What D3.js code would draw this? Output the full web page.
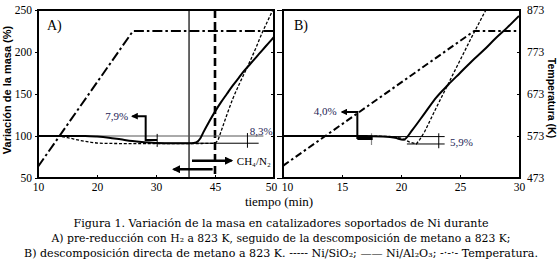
<!DOCTYPE html>
<html><head><meta charset="utf-8">
<script src="https://cdn.jsdelivr.net/npm/d3@7"></script>
<style>body{margin:0;background:#fff}svg{display:block}</style>
</head><body>
<svg id="c" width="560" height="262"></svg>
<script>
// ---- data ----
const massTicks = [50, 100, 150, 200, 250];
const tempTicks = [473, 573, 673, 773, 873];
const xTicksA = [10, 20, 30, 40, 50];
const xTickLabelsA = ["10", "20", "30", "45", "50"];
const xTicksB = [10, 15, 20, 25, 30];

// Panel A (pre-reduction then CH4)
const tempA = [[10, 500], [26.1, 823], [50, 823]];
const solidA = [[10,100],[18,100],[20,99.3],[22,98],[24,96],[26,94],[28,92.5],[30,91.8],[33,91.5],[36,91.5],[36.8,92.3],[37.5,97],[38,104],[39,117],[40,129],[41,140],[42,150],[43,160],[44,169],[45,178],[46,186],[47,194],[48,202],[49,210],[50,218]];
const dottedA = [[10,100],[13,100],[15,98],[17,95],[19,92.5],[21,91.3],[25,91],[30,91],[35,91],[39.8,91.3],[40.4,94],[41,105],[42,125],[43,144],[44,160],[45,175],[46,190],[47,206],[48,223],[49,238],[49.8,250]];
const vSolidA = 35.6, vDashedA = 40;

// Panel B (direct CH4 decomposition)
const tempB = [[10, 502], [26.2, 823], [30, 823]];
const solidB = [[10,100],[17,100],[18.5,99.3],[19.5,97.8],[20.2,95.5],[21,108],[22,127],[23,146],[24,161],[25,175],[26,189],[27,202],[28,216],[29,229],[30,243]];
const dottedB = [[10,100],[17,100],[19,99.5],[20,97.5],[20.7,93],[21.3,90.5],[21.6,96],[22,105],[23,134],[24,162],[25,190],[26,218],[27,245],[27.2,250]];

const captionLines = [
  "Figura 1. Variación de la masa en catalizadores soportados de Ni durante",
  "A) pre-reducción con H₂ a 823 K, seguido de la descomposición de metano a 823 K;",
  "B) descomposición directa de metano a 823 K. ----- Ni/SiO₂; —— Ni/Al₂O₃; -·-·- Temperatura."
];

// ---- drawing ----
const svg = d3.select("#c");
const serif = "'Liberation Serif', 'Times New Roman', serif";
const sans = "'Liberation Sans', Arial, sans-serif";
const xA = d3.scaleLinear([10, 50], [38, 274]);
const xB = d3.scaleLinear([10, 30], [283, 519]);
const yM = d3.scaleLinear([50, 250], [178, 10]);
const yT = d3.scaleLinear([473, 873], [178, 10]);

svg.append("defs").html(`
  <marker id="ah" viewBox="0 0 10 10" refX="8" refY="5" markerWidth="3.4" markerHeight="3.4" orient="auto">
    <path d="M0,0 L10,5 L0,10 z" fill="#000"/></marker>`);

function lineOf(x, y, curve) {
  return d3.line().x(d => x(d[0])).y(d => y(d[1])).curve(curve || d3.curveLinear);
}

function panel(x, xt, xl, opts) {
  const g = svg.append("g");
  const id = "clip" + opts.name;
  svg.select("defs").append("clipPath").attr("id", id).append("rect")
    .attr("x", x.range()[0]).attr("y", 10).attr("width", x.range()[1] - x.range()[0]).attr("height", 168);
  const bx = d3.axisBottom(x).tickValues(xt).tickFormat((d, i) => xl[i]).tickSize(-3).tickPadding(5);
  const ga = g.append("g").attr("transform", "translate(0,178)").call(bx);
  ga.select(".domain").remove();
  ga.selectAll("text").attr("font-family", serif).attr("font-size", 11.5).attr("fill", "#000");
  ga.selectAll("line").attr("stroke", "#000");
  return {g, ga, clip: "url(#" + id + ")"};
}

// Panel A
const pA = panel(xA, xTicksA, xTickLabelsA, {name: "A"});
pA.ga.selectAll(".tick text").filter(d => d === 50).attr("dx", -3);
{
  const ay = d3.axisLeft(yM).tickValues(massTicks).tickSize(3).tickPadding(3);
  const ga = pA.g.append("g").attr("transform", "translate(38,0)").call(ay);
  ga.select(".domain").remove();
  ga.selectAll("text").attr("font-family", serif).attr("font-size", 11.5).attr("fill", "#000");
  const ar = d3.axisLeft(yM).tickValues(massTicks).tickSize(3).tickFormat("");
  const gr = pA.g.append("g").attr("transform", "translate(274,0)").call(ar);
  gr.select(".domain").remove();
}
const cA = pA.g.append("g").attr("clip-path", pA.clip);
cA.append("path").attr("d", lineOf(xA, yT)(tempA)).attr("fill", "none").attr("stroke", "#000")
  .attr("stroke-width", 2).attr("stroke-dasharray", "10,3,2.5,3");
cA.append("line").attr("x1", xA(vSolidA)).attr("x2", xA(vSolidA)).attr("y1", 10).attr("y2", 178)
  .attr("stroke", "#000").attr("stroke-width", 1.2);
cA.append("line").attr("x1", xA(vDashedA)).attr("x2", xA(vDashedA)).attr("y1", 10).attr("y2", 178)
  .attr("stroke", "#000").attr("stroke-width", 2.6).attr("stroke-dasharray", "8,4");
cA.append("line").attr("x1", xA(10)).attr("x2", xA(48.2)).attr("y1", yM(100)).attr("y2", yM(100)).attr("stroke", "#555").attr("stroke-width", 1);
cA.append("line").attr("x1", xA(30.2)).attr("x2", xA(47.4)).attr("y1", yM(91.4)).attr("y2", yM(91.4)).attr("stroke", "#000").attr("stroke-width", 1);
cA.append("line").attr("x1", xA(45.5)).attr("x2", xA(45.5)).attr("y1", yM(103.5)).attr("y2", yM(86)).attr("stroke", "#000").attr("stroke-width", 1);
cA.append("line").attr("x1", xA(30.2)).attr("x2", xA(30.2)).attr("y1", yM(102.5)).attr("y2", yM(87)).attr("stroke", "#000").attr("stroke-width", 1);
cA.append("path").attr("d", lineOf(xA, yM, d3.curveMonotoneX)(dottedA)).attr("fill", "none").attr("stroke", "#000")
  .attr("stroke-width", 1.3).attr("stroke-dasharray", "3,1.8");
cA.append("path").attr("d", lineOf(xA, yM, d3.curveMonotoneX)(solidA)).attr("fill", "none").attr("stroke", "#000").attr("stroke-width", 2);
pA.g.append("path").attr("d", lineOf(xA, yM)([[30.2, 95.2], [28.25, 95.2], [28.25, 123.6], [26.0, 123.6]]))
  .attr("fill", "none").attr("stroke", "#000").attr("stroke-width", 2).attr("marker-end", "url(#ah)");
pA.g.append("text").attr("x", xA(25.3)).attr("y", yM(119.5)).attr("text-anchor", "end")
  .attr("font-family", serif).attr("font-size", 11).attr("fill", "#1e1e55").text("7,9%");
pA.g.append("text").attr("x", xA(45.9)).attr("y", yM(100.8)).attr("font-family", serif).attr("font-size", 11).attr("fill", "#1e1e55").text("8,3%");
pA.g.append("line").attr("x1", xA(36.1)).attr("x2", xA(42.8)).attr("y1", yM(70.6)).attr("y2", yM(70.6))
  .attr("stroke", "#000").attr("stroke-width", 2.4).attr("marker-end", "url(#ah)");
pA.g.append("line").attr("x1", xA(39.6)).attr("x2", xA(33.0)).attr("y1", yM(60.4)).attr("y2", yM(60.4))
  .attr("stroke", "#000").attr("stroke-width", 2.4).attr("marker-end", "url(#ah)");
pA.g.append("text").attr("x", xA(43.7)).attr("y", yM(65.5)).attr("font-family", serif).attr("font-size", 11).attr("fill", "#000").text("CH₄/N₂");
pA.g.append("text").attr("x", 47).attr("y", 30).attr("font-family", serif).attr("font-size", 14).text("A)");
pA.g.append("rect").attr("x", 38).attr("y", 10).attr("width", 236).attr("height", 168).attr("fill", "none").attr("stroke", "#000").attr("stroke-width", 2);

// Panel B
const pB = panel(xB, xTicksB, xTicksB.map(String), {name: "B"});
pB.ga.selectAll(".tick text").filter(d => d === 10).attr("dx", 4);
{
  const al = d3.axisLeft(yM).tickValues(massTicks).tickSize(6).tickFormat("");
  const gl = pB.g.append("g").attr("transform", "translate(283,0)").call(al);
  gl.select(".domain").remove();
  const ar = d3.axisRight(yT).tickValues(tempTicks).tickSize(-3).tickPadding(7);
  const gr = pB.g.append("g").attr("transform", "translate(520,0)").call(ar);
  gr.select(".domain").remove();
  gr.selectAll("text").attr("font-family", serif).attr("font-size", 11.5).attr("fill", "#000");
}
const cB = pB.g.append("g").attr("clip-path", pB.clip);
cB.append("path").attr("d", lineOf(xB, yT)(tempB)).attr("fill", "none").attr("stroke", "#000")
  .attr("stroke-width", 2).attr("stroke-dasharray", "7,3,2.5,3");
cB.append("line").attr("x1", xB(16.3)).attr("x2", xB(23.7)).attr("y1", yM(99.3)).attr("y2", yM(99.3)).attr("stroke", "#000").attr("stroke-width", 1);
cB.append("line").attr("x1", xB(20.5)).attr("x2", xB(23.7)).attr("y1", yM(90.5)).attr("y2", yM(90.5)).attr("stroke", "#000").attr("stroke-width", 1);
cB.append("line").attr("x1", xB(23.2)).attr("x2", xB(23.2)).attr("y1", yM(103.2)).attr("y2", yM(85.4)).attr("stroke", "#000").attr("stroke-width", 1);
cB.append("line").attr("x1", xB(17.5)).attr("x2", xB(17.5)).attr("y1", yM(103.2)).attr("y2", yM(89.3)).attr("stroke", "#888").attr("stroke-width", 1.2);
cB.append("path").attr("d", lineOf(xB, yM)(dottedB)).attr("fill", "none").attr("stroke", "#000")
  .attr("stroke-width", 1.3).attr("stroke-dasharray", "3,1.8");
cB.append("path").attr("d", lineOf(xB, yM, d3.curveMonotoneX)(solidB)).attr("fill", "none").attr("stroke", "#000").attr("stroke-width", 2);
cB.append("line").attr("x1", xB(16.3)).attr("x2", xB(17.6)).attr("y1", yM(97)).attr("y2", yM(97)).attr("stroke", "#000").attr("stroke-width", 3);
pB.g.append("path").attr("d", lineOf(xB, yM)([[16.3, 96.5], [16.3, 128.6], [15.0, 128.6]]))
  .attr("fill", "none").attr("stroke", "#000").attr("stroke-width", 2).attr("marker-end", "url(#ah)");
pB.g.append("text").attr("x", xB(14.55)).attr("y", yM(124.5)).attr("text-anchor", "end")
  .attr("font-family", serif).attr("font-size", 11).attr("fill", "#1e1e55").text("4,0%");
pB.g.append("text").attr("x", xB(24.15)).attr("y", yM(88.5)).attr("font-family", serif).attr("font-size", 11).attr("fill", "#1e1e55").text("5,9%");
pB.g.append("text").attr("x", 294).attr("y", 30).attr("font-family", serif).attr("font-size", 14).text("B)");
pB.g.append("rect").attr("x", 283).attr("y", 10).attr("width", 237).attr("height", 168).attr("fill", "none").attr("stroke", "#000").attr("stroke-width", 2);

// axis titles
svg.append("text").attr("transform", "translate(11,90) rotate(-90)").attr("text-anchor", "middle")
  .attr("font-family", sans).attr("font-weight", "bold").attr("font-size", 11).text("Variación de la masa (%)");
svg.append("text").attr("transform", "translate(548,98) rotate(90)").attr("text-anchor", "middle")
  .attr("font-family", sans).attr("font-weight", "bold").attr("font-size", 10.5).text("Temperatura (K)");
svg.append("text").attr("x", 279).attr("y", 206).attr("text-anchor", "middle")
  .attr("font-family", serif).attr("font-size", 13).text("tiempo (min)");

// caption
const capW = [415, 459, 514];
const capY = [227, 242, 257];
captionLines.forEach((t, i) => {
  svg.append("text").attr("x", 281).attr("y", capY[i]).attr("text-anchor", "middle")
    .attr("font-family", "'DejaVu Serif', serif").attr("font-size", 10.8)
    .attr("textLength", capW[i]).attr("lengthAdjust", "spacingAndGlyphs").text(t);
});
</script>
</body></html>
